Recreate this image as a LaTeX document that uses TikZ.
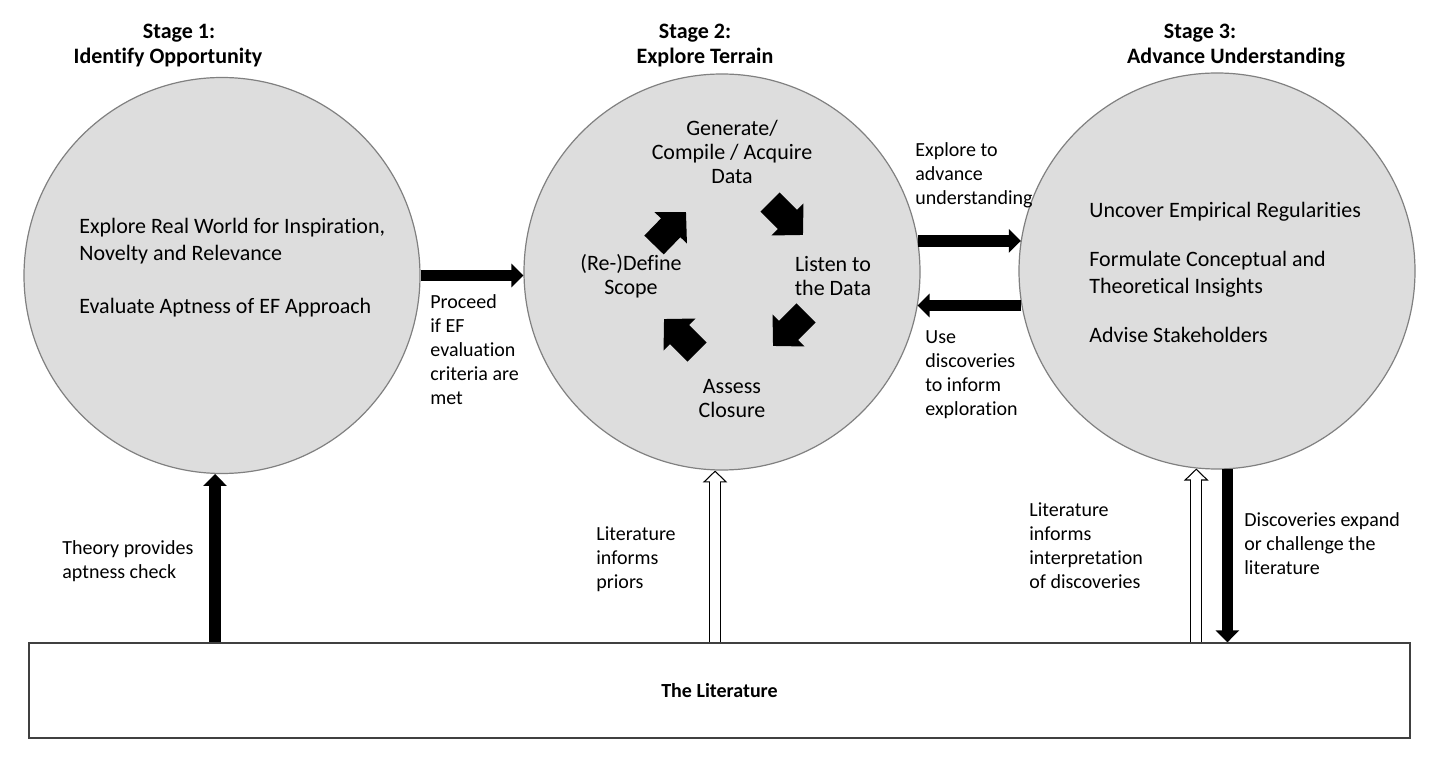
\documentclass[tikz,border=0pt]{standalone}
\usepackage{fontspec}
\setmainfont{Carlito}[Ligatures=NoCommon]
\usepackage{tikz}
\usetikzlibrary{arrows.meta,positioning}

\definecolor{stagefill}{RGB}{221,221,221}
\definecolor{stageline}{RGB}{128,128,128}

\tikzset{
  stage/.style={circle, draw=stageline, line width=0.6pt, fill=stagefill, minimum size=198pt, inner sep=0pt},
  heading/.style={font=\fontsize{11}{13}\selectfont\bfseries},
  bigtext/.style={font=\fontsize{11}{13.5}\selectfont, align=left, anchor=west, inner sep=0pt},
  looptext/.style={font=\fontsize{11}{12}\selectfont, align=center, inner sep=0pt},
  sidetext/.style={font=\fontsize{10}{12}\selectfont, align=left, anchor=west, inner sep=0pt},
  blockarrow/.style={line width=5.75pt, -{Triangle[width=11.5pt,length=6pt]}},
  hollowarrow/.style={line width=6pt, -{Triangle[width=12pt,length=6pt]},
    postaction={draw=white, line width=4.8pt, shorten >=0.85pt, -{Triangle[width=9.1pt,length=4.55pt]}}},
  cyclearrow/.style={line width=13.5pt, -{Triangle[width=22pt,length=11pt]}}
}

\begin{document}
\begin{tikzpicture}[x=0.5pt,y=-0.5pt]
\useasboundingbox (0,0) rectangle (1434,758);

% Stage headings
\node[heading] (h1a) at (179,33) {Stage 1:};
\node[heading] (h1b) at (168,58) {Identify Opportunity};
\node[heading] (h2a) at (695,33) {Stage 2:};
\node[heading] (h2b) at (705,58) {Explore Terrain};
\node[heading] (h3a) at (1200,33) {Stage 3:};
\node[heading] (h3b) at (1236,58) {Advance Understanding};

% Stage circles
\node[stage] (s1) at (222,275.5) {};
\node[stage] (s2) at (722,272) {};
\node[stage] (s3) at (1217,271) {};

% The literature
\node[draw=black!75, line width=0.6pt, minimum width=690.5pt, minimum height=47.5pt, inner sep=0pt,
  font=\fontsize{10}{12}\selectfont\bfseries] (lit) at (719.5,690.5) {The Literature};

% Stage 1 content
\node[bigtext] (s1txt) at (79,268) {Explore Real World for Inspiration,\\Novelty and Relevance\\[13pt]Evaluate Aptness of EF Approach};

% Stage 2 loop
\node[looptext] (gen) at (732,152) {Generate/\\Compile / Acquire\\Data};
\node[looptext] (listen) at (833,276) {Listen to\\the Data};
\node[looptext] (assess) at (732,399) {Assess\\Closure};
\node[looptext] (scope) at (631,276) {(Re-)Define\\Scope};

\coordinate (c1a) at (654,245); \coordinate (c1b) at (686,212);
\coordinate (c2a) at (770,202); \coordinate (c2b) at (803,235);
\coordinate (c3a) at (806,313); \coordinate (c3b) at (773,346);
\coordinate (c4a) at (697,352); \coordinate (c4b) at (664,319);
\foreach \n in {1,...,4}
  \draw[cyclearrow] (c\n a) -- (c\n b);

% Stage 3 content
\node[bigtext] (s3txt) at (1089,272.5) {Uncover Empirical Regularities\\[11pt]Formulate Conceptual and\\Theoretical Insights\\[11pt]Advise Stakeholders};

% Arrows between stages
\draw[blockarrow] (s1.east) -- (s1.east -| s2.west);
\draw[blockarrow] (s2.9) -- (s2.9 -| s3.171);
\draw[blockarrow] (s3.190) -- (s3.190 -| s2.-10);

% Arrows to and from the literature
\draw[blockarrow] (lit.north -| s1.268) -- (s1.268);
\draw[hollowarrow] (lit.north -| s2.268) -- (s2.268);
\draw[hollowarrow] (lit.north -| s3.264) -- (s3.264);
\draw[blockarrow] (s3.273) -- (s3.273 |- lit.north);

% Arrow labels
\node[sidetext] (proceed) at (430,350) {Proceed\\if EF\\evaluation\\criteria are\\met};
\node[sidetext] (advance) at (915,175) {Explore to\\advance\\understanding};
\node[sidetext] (inform) at (925,374.5) {Use\\discoveries\\to inform\\exploration};
\node[sidetext] (theory) at (62,561) {Theory provides\\aptness check};
\node[sidetext] (priors) at (596,559.5) {Literature\\informs\\priors};
\node[sidetext] (interp) at (1029,546) {Literature\\informs\\interpretation\\of discoveries};
\node[sidetext] (expand) at (1244,543.5) {Discoveries expand\\or challenge the\\literature};

% box line on top of arrow ends
\draw[black!75, line width=0.6pt] (lit.north west) -- (lit.north east);
\end{tikzpicture}
\end{document}
